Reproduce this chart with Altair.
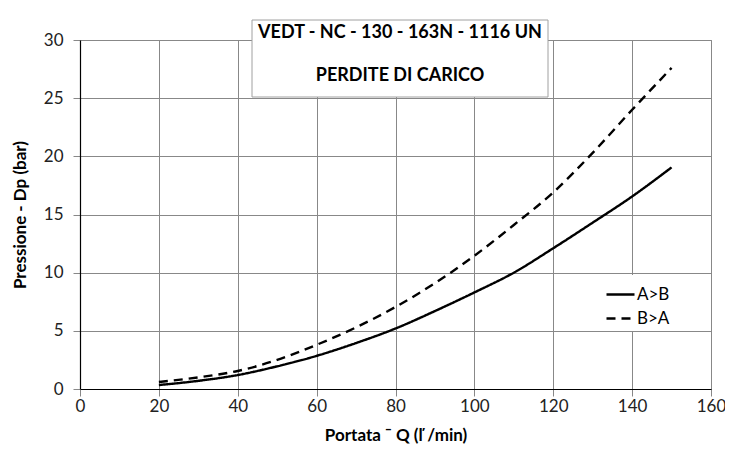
import altair as alt
import pandas as pd

flow = [20, 30, 40, 50, 60, 70, 80, 90, 100, 110, 120, 130, 140, 150]
a_to_b = [0.34, 0.7, 1.2, 1.95, 2.85, 3.95, 5.2, 6.7, 8.3, 10.0, 12.1, 14.3, 16.55, 19.05]
b_to_a = [0.6, 1.0, 1.55, 2.5, 3.8, 5.3, 7.05, 9.1, 11.45, 14.1, 16.9, 20.3, 24.0, 27.6]
series_names = ["A>B", "B>A"]
title_lines = ["VEDT - NC - 130 - 163N - 1116 UN", "PERDITE DI CARICO"]
x_ticks = list(range(0, 161, 20))
y_ticks = list(range(0, 31, 5))

rows = []
for q, v in zip(flow, a_to_b):
    rows.append({"Q": q, "P": v, "serie": series_names[0]})
for q, v in zip(flow, b_to_a):
    rows.append({"Q": q, "P": v, "serie": series_names[1]})
df = pd.DataFrame(rows)

FONT = "Lato"

lines = alt.Chart(df).mark_line(strokeWidth=2.4, color="black", interpolate="monotone").encode(
    x=alt.X("Q:Q", scale=alt.Scale(domain=[0, 160], nice=False),
            axis=alt.Axis(values=x_ticks, title="Portata ¯ Q (ľ /min)", grid=True,
                          labelFlush=False, labelPadding=2, titlePadding=13)),
    y=alt.Y("P:Q", scale=alt.Scale(domain=[0, 30], nice=False),
            axis=alt.Axis(values=y_ticks, title="Pressione  - Dp (bar)", grid=True,
                          labelFlush=False, labelPadding=10, titlePadding=14)),
    strokeDash=alt.StrokeDash(
        "serie:N",
        scale=alt.Scale(domain=series_names, range=[[1, 0], [9, 6]]),
        legend=alt.Legend(
            title=None, orient="none", legendX=521, legendY=235,
            symbolType="stroke", symbolSize=784, symbolStrokeWidth=2.4,
            symbolStrokeColor="black", labelFontSize=17, labelFont=FONT,
            labelColor="black", fillColor="white", padding=4, rowPadding=-6,
            labelOffset=1, symbolOffset=0,
        ),
    ),
    detail="serie:N",
)

box = alt.Chart(pd.DataFrame({"t": [title_lines[0]]})).mark_rect(
    fill="white", stroke="#a0a0a0", strokeWidth=1
).encode(
    x=alt.value(172), x2=alt.value(468), y=alt.value(-20), y2=alt.value(57)
)

t1 = alt.Chart(pd.DataFrame({"t": [title_lines[0]]})).mark_text(
    font=FONT, fontSize=18, fontWeight="bold", color="black", align="center", baseline="middle"
).encode(text="t:N", x=alt.value(320), y=alt.value(-7))

t2 = alt.Chart(pd.DataFrame({"t": [title_lines[1]]})).mark_text(
    font=FONT, fontSize=18, fontWeight="bold", color="black", align="center", baseline="middle"
).encode(text="t:N", x=alt.value(320), y=alt.value(36))

chart = alt.layer(lines, box, t1, t2).properties(
    width=631, height=349,
    padding={"left": 72, "top": 32, "right": 14, "bottom": 60},
    autosize="none",
).configure_view(stroke="#888888", strokeWidth=1).configure_axis(
    gridColor="#888888", gridWidth=1, gridOpacity=1,
    domainColor="black", domainWidth=1.2,
    tickColor="#888888", tickSize=7, tickWidth=1,
    labelFont=FONT, labelFontSize=17, labelColor="#222222",
    titleFont=FONT, titleFontSize=17, titleFontWeight="bold", titleColor="black",
)

chart.save("out.html", embed_options={"renderer": "svg", "actions": False})
